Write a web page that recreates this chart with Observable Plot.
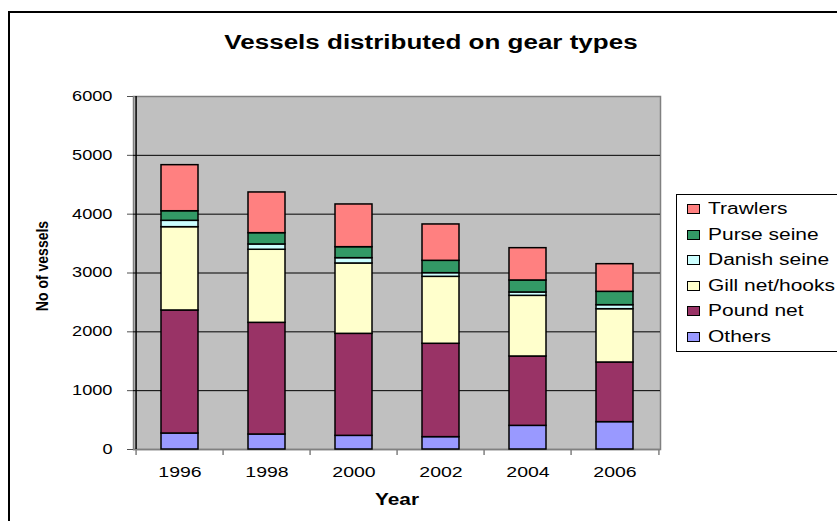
<!DOCTYPE html>
<html><head><meta charset="utf-8">
<script src="https://cdn.jsdelivr.net/npm/d3@7"></script>
<script src="https://cdn.jsdelivr.net/npm/@observablehq/plot@0.6"></script>
<style>
body{margin:0;overflow:hidden;background:#fff;font-family:"Liberation Sans",Arial,sans-serif;}
#wrap{position:relative;width:837px;height:521px;overflow:hidden;background:#fff;}
#wrap svg{position:absolute;left:0;top:0;}
.outer{position:absolute;left:8px;top:11px;width:1000px;height:1000px;border:2px solid #000;}
.title{position:absolute;left:0;width:862px;top:30px;text-align:center;font-weight:bold;font-size:20px;line-height:24px;transform:scaleX(1.3);}
.xlab{position:absolute;left:0;width:794px;top:491px;text-align:center;font-weight:bold;font-size:16px;line-height:18px;transform:scaleX(1.3);}
.ylab{position:absolute;left:42px;top:266px;width:0;height:0;}
.ylab span{position:absolute;left:0;top:0;white-space:nowrap;font-weight:bold;font-size:14px;line-height:14px;transform:translate(-50%,-50%) rotate(-90deg) scaleY(1.15);}
.legend{position:absolute;left:676px;top:194px;width:300px;height:156px;border:1px solid #000;background:#fff;}
.item{position:absolute;left:0;height:20px;}
.sw{position:absolute;left:10px;top:5px;width:11px;height:8px;border:1px solid #000;}
.lt{position:absolute;left:31px;top:0;font-size:16px;line-height:20px;white-space:nowrap;transform:scaleX(1.31);transform-origin:left center;}
</style></head><body><div id="wrap"></div><script>
const years = ["1996","1998","2000","2002","2004","2006"];
const series = ["Others","Pound net","Gill net/hooks","Danish seine","Purse seine","Trawlers"];
const others      = [272, 255, 232, 210, 402, 465];
const poundNet    = [2091, 1898, 1734, 1587, 1179, 1014];
const gillNet     = [1416, 1242, 1196, 1138, 1031, 906];
const danishSeine = [108, 90, 90, 62, 57, 68];
const purseSeine  = [163, 192, 187, 210, 204, 227];
const trawlers    = [783, 692, 726, 618, 549, 470];
const colors = ["#9999FF","#993366","#FFFFCC","#CCFFFF","#339966","#FF8080"];
const yTicks = [0, 1000, 2000, 3000, 4000, 5000, 6000];
const titleText = "Vessels distributed on gear types";
const xTitle = "Year";
const yTitle = "No of vessels";

const seriesValues = [others, poundNet, gillNet, danishSeine, purseSeine, trawlers];
const table = [];
series.forEach((s, si) => years.forEach((yr, yi) => table.push({year: yr, series: s, value: seriesValues[si][yi]})));

const W = 837, H = 521, mL = 133, mR = 177, mT = 96, mB = 72;
const step = (W - mL - mR) / years.length;
const font = '"Liberation Sans", Arial, sans-serif';

const plot = Plot.plot({
  width: W, height: H, marginLeft: mL, marginRight: mR, marginTop: mT, marginBottom: mB,
  style: {fontFamily: font, background: "transparent", overflow: "visible", color: "#000"},
  x: {domain: years, paddingInner: 0.58, paddingOuter: 0.29, label: null},
  y: {domain: [0, 6000], label: null},
  color: {domain: series, range: colors},
  marks: [
    Plot.frame({fill: "#c0c0c0", stroke: "#808080", strokeWidth: 1.5}),
    Plot.ruleY(yTicks.filter(v => v > 0 && v < 6000), {stroke: "#000", strokeWidth: 1}),
    Plot.ruleY([0], {stroke: "#808080", strokeWidth: 1.5}),
    Plot.barY(table, {x: "year", y: "value", fill: "series", stroke: "#000", strokeWidth: 1.5}),
    Plot.ruleX([years[0]], {x: d => d, dx: -step / 2, stroke: "#000", strokeWidth: 1.5}),
    Plot.ruleX(years, {x: d => d, y1: 0, y2: 0, dx: -step / 2, insetBottom: -6, stroke: "#808080", strokeWidth: 1.5}),
    Plot.ruleX([years[years.length - 1]], {x: d => d, y1: 0, y2: 0, dx: step / 2, insetBottom: -6, stroke: "#808080", strokeWidth: 1.5}),
    Plot.axisY({ticks: yTicks, tickSize: 6, tickPadding: 15, fontSize: 14, tickFormat: d => String(d), label: null, stroke: "#505050"}),
    Plot.axisX({tickSize: 0, tickPadding: 17, fontSize: 15, label: null})
  ]
});

d3.select(plot).selectAll("g[aria-label$='tick label'] text").each(function() {
  const t = this.getAttribute("transform") || "";
  this.setAttribute("transform", t + " scale(1.3,1)");
});

const wrap = d3.select("#wrap");
wrap.node().appendChild(plot);
wrap.append("div").attr("class", "outer");
wrap.append("div").attr("class", "title").text(titleText);
wrap.append("div").attr("class", "xlab").text(xTitle);
wrap.append("div").attr("class", "ylab").append("span").text(yTitle);
const leg = wrap.append("div").attr("class", "legend");
series.slice().reverse().forEach((s, i) => {
  const it = leg.append("div").attr("class", "item").style("top", (4 + i * 25.6) + "px");
  it.append("div").attr("class", "sw").style("background", colors[series.indexOf(s)]);
  it.append("div").attr("class", "lt").text(s);
});
</script></body></html>
